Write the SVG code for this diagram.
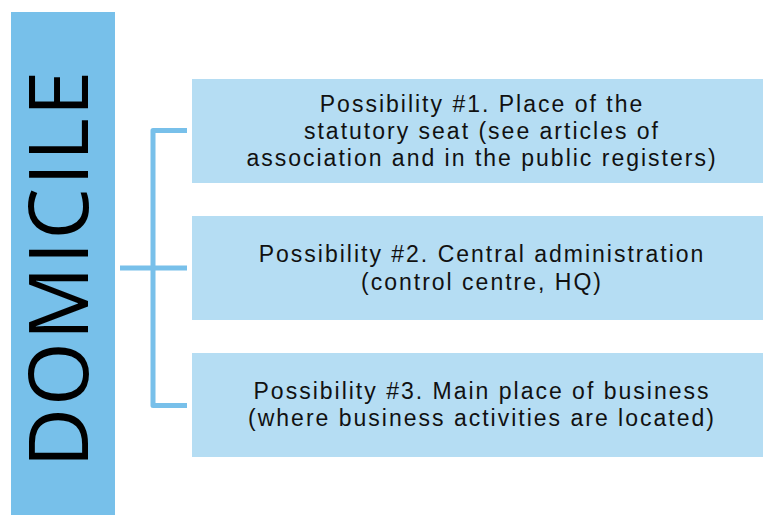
<svg xmlns="http://www.w3.org/2000/svg" width="763" height="515" viewBox="0 0 763 515">
<style>
.box{fill:#b5ddf3}
.lbl{font-family:"Liberation Sans",Arial,sans-serif;font-size:23px;fill:#111;text-anchor:middle;letter-spacing:2px}
.con{stroke:#78c0ea;stroke-width:5;fill:none;stroke-linejoin:round}
</style>
<rect width="763" height="515" fill="#fff"/>
<g id="domicile">
<rect x="11" y="12" width="104" height="503" fill="#77c0ea"/>
<text transform="translate(88,268) rotate(-90)" x="0" y="0" font-family="'Open Sans','Liberation Sans',sans-serif" font-size="82" letter-spacing="2" fill="#000" text-anchor="middle">DOMICILE</text>
</g>
<g id="connectors">
<path class="con" d="M187,130.5 H153 V405.5 H187"/>
<path class="con" d="M120,268 H187"/>
</g>
<g id="possibility1">
<rect class="box" x="192" y="79" width="571" height="104"/>
<text class="lbl" x="482" y="112">Possibility #1. Place of the</text>
<text class="lbl" x="482" y="139">statutory seat (see articles of</text>
<text class="lbl" x="482" y="166">association and in the public registers)</text>
</g>
<g id="possibility2">
<rect class="box" x="192" y="216" width="571" height="104"/>
<text class="lbl" x="482" y="262">Possibility #2. Central administration</text>
<text class="lbl" x="482" y="290">(control centre, HQ)</text>
</g>
<g id="possibility3">
<rect class="box" x="192" y="353" width="571" height="104"/>
<text class="lbl" x="482" y="399">Possibility #3. Main place of business</text>
<text class="lbl" x="482" y="426">(where business activities are located)</text>
</g>
</svg>
